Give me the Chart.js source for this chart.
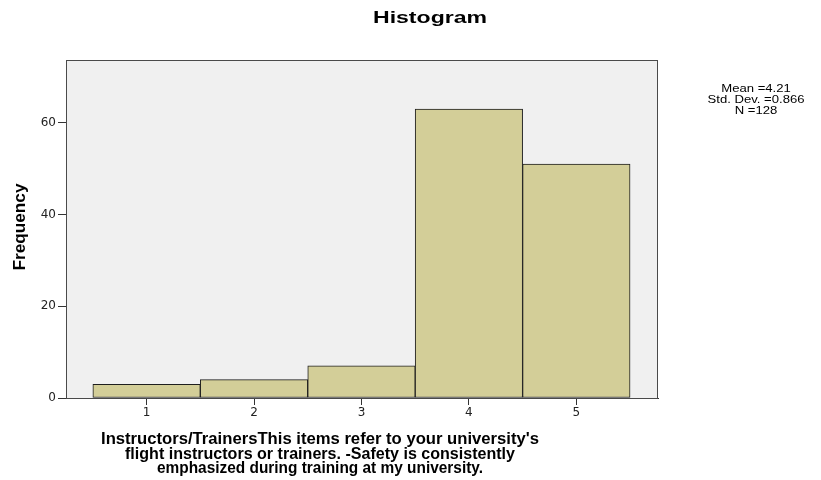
<!DOCTYPE html>
<html>
<head>
<meta charset="utf-8">
<script src="https://cdn.jsdelivr.net/npm/chart.js@4/dist/chart.umd.min.js"></script>
<style>
  html, body { margin: 0; padding: 0; background: #ffffff; }
  #wrap { width: 821px; height: 480px; position: relative; }
</style>
</head>
<body>
<div id="wrap"><canvas id="c"></canvas></div>
<script>
const categories = [1, 2, 3, 4, 5];
const frequencies = [3, 4, 7, 63, 51];
const xTickValues = [1, 2, 3, 4, 5];
const yTickValues = [0, 20, 40, 60];
const chartTitle = 'Histogram';
const yAxisTitle = 'Frequency';
const xAxisTitleLines = [
  "Instructors/TrainersThis items refer to your university's",
  "flight instructors or trainers. -Safety is consistently",
  "emphasized during training at my university."
];
const statsLines = ['Mean =4.21', 'Std. Dev. =0.866', 'N =128'];

function drawScaled(ctx, text, cx, cy, font, sx, rotate) {
  ctx.save();
  ctx.font = font;
  ctx.fillStyle = '#000000';
  ctx.textAlign = 'center';
  ctx.textBaseline = 'middle';
  ctx.translate(cx, cy);
  if (rotate) ctx.rotate(-Math.PI / 2);
  ctx.scale(sx, 1);
  ctx.fillText(text, 0, 0);
  ctx.restore();
}
function factorFor(ctx, text, font, target) {
  ctx.save(); ctx.font = font;
  const w = ctx.measureText(text).width;
  ctx.restore();
  return target / w;
}

const decorPlugin = {
  id: 'decor',
  beforeDraw(chart) {
    const ctx = chart.ctx;
    const a = chart.chartArea;
    ctx.save();
    ctx.fillStyle = '#ffffff';
    ctx.fillRect(0, 0, chart.width, chart.height);
    ctx.fillStyle = '#f0f0f0';
    ctx.fillRect(a.left, a.top, a.right - a.left, a.bottom - a.top);
    ctx.restore();
  },
  afterDraw(chart) {
    const ctx = chart.ctx;
    const a = chart.chartArea;
    ctx.save();
    ctx.strokeStyle = '#4a4a4a';
    ctx.lineWidth = 1;
    ctx.strokeRect(Math.round(a.left) + 0.5, Math.round(a.top) + 0.5,
                   Math.round(a.right - a.left) - 1, Math.round(a.bottom - a.top));
    ctx.restore();
    const F = '"Liberation Sans", Arial, sans-serif';
    const tf = 'bold 17px ' + F;
    drawScaled(ctx, chartTitle, 430, 18, tf, factorFor(ctx, chartTitle, tf, 114), false);
    drawScaled(ctx, yAxisTitle, 20, 227, tf, factorFor(ctx, yAxisTitle, tf, 87), true);
    const xf = 'bold 16px ' + F;
    const xw = [438, 390, 326];
    const xy = [440, 454.5, 469];
    xAxisTitleLines.forEach((t, i) => drawScaled(ctx, t, 320, xy[i], xf, factorFor(ctx, t, xf, xw[i]), false));
    const sf = '11px ' + F;
    const ss = factorFor(ctx, statsLines[1], sf, 97);
    const sy = [89, 100, 111];
    statsLines.forEach((t, i) => drawScaled(ctx, t, 756, sy[i], sf, ss, false));
  }
};

const tickFont = { size: 12, family: '"DejaVu Sans", Arial, sans-serif' };

new Chart(document.getElementById('c'), {
  type: 'bar',
  data: {
    datasets: [{
      data: categories.map((c, i) => ({ x: c, y: frequencies[i] })),
      backgroundColor: '#d3ce98',
      borderColor: '#1e1e1e',
      borderWidth: 1,
      borderSkipped: false,
      barPercentage: 1,
      categoryPercentage: 1
    }]
  },
  options: {
    responsive: true,
    maintainAspectRatio: false,
    animation: false,
    layout: { padding: { top: 60, right: 163, left: 0, bottom: 0 } },
    plugins: { legend: { display: false }, title: { display: false }, tooltip: { enabled: false } },
    scales: {
      x: {
        type: 'linear',
        min: 0.25,
        max: 5.76,
        offset: false,
        afterBuildTicks: s => { s.ticks = xTickValues.map(v => ({ value: v })); },
        afterFit: s => { s.height = 82; },
        grid: { display: true, offset: false, drawOnChartArea: false, drawTicks: true, tickLength: 7, color: '#333333' },
        border: { display: true, color: '#333333', width: 1 },
        ticks: { color: '#222222', font: tickFont, padding: 1, maxRotation: 0, autoSkip: false }
      },
      y: {
        min: 0,
        max: 73.7,
        afterBuildTicks: s => { s.ticks = yTickValues.map(v => ({ value: v })); },
        afterFit: s => { s.width = 66; },
        grid: { display: true, offset: false, drawOnChartArea: false, drawTicks: true, tickLength: 8, color: '#333333' },
        border: { display: true, color: '#333333', width: 1 },
        ticks: { color: '#222222', font: tickFont, padding: 2 }
      }
    }
  },
  plugins: [decorPlugin]
});
</script>
</body>
</html>
